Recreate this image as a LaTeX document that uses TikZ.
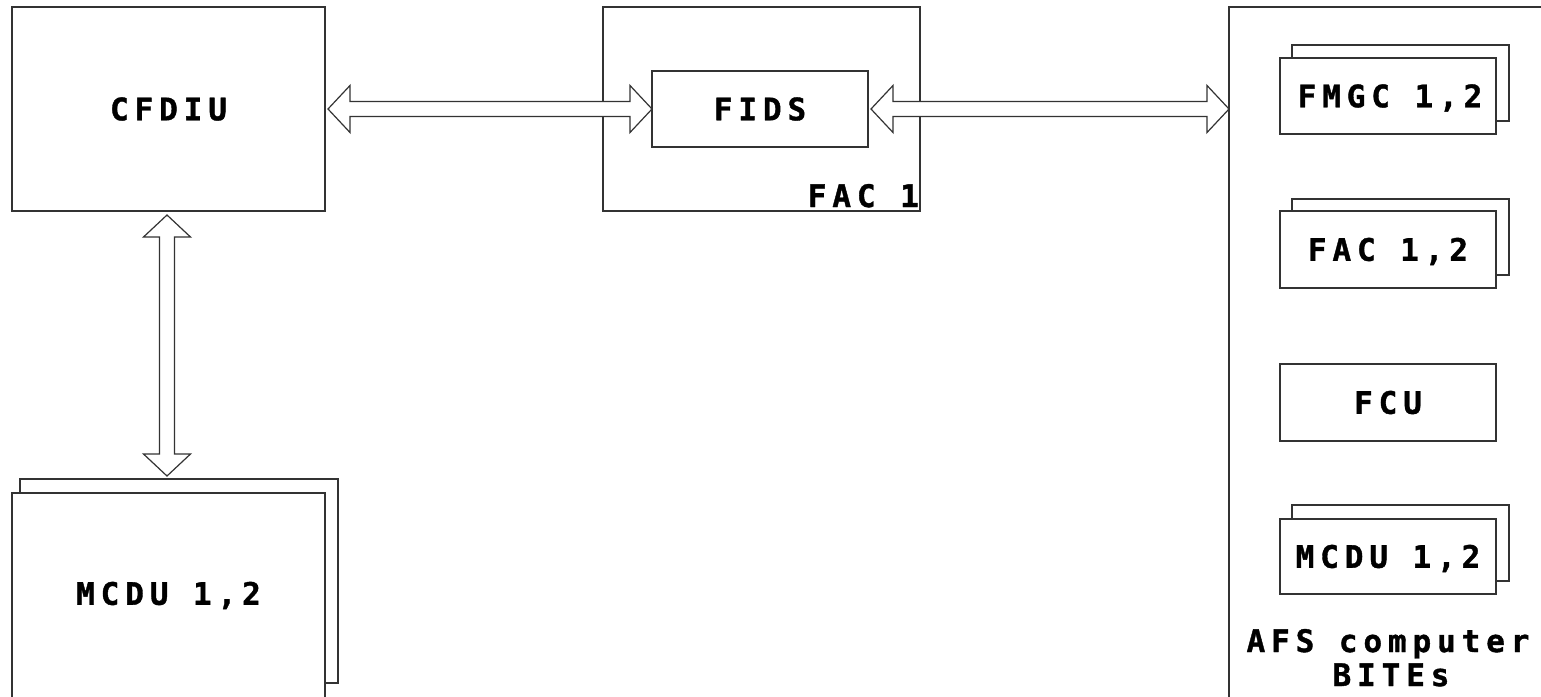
\documentclass[tikz,border=0pt]{standalone}
\usepackage{fontspec}
\usetikzlibrary{calc}
\newfontfamily\lblfont{DejaVu Sans Mono Bold}[LetterSpace=19, FakeBold=1.2]
\definecolor{linecol}{gray}{0.2}
\tikzset{
  box/.style={draw=linecol, line width=1.2pt, fill=white, inner sep=0pt, outer sep=0pt},
  lbl/.style={font=\lblfont\fontsize{31}{34}\selectfont, inner sep=0pt, text height=22.6pt, text depth=0pt},
  conn/.style={draw=linecol, line width=1.2pt, fill=white, line join=miter},
}
\newcommand\HArrow[2]{\draw[conn] let \p1=(#1), \p2=(#2) in
  (\x1,\y1) -- ++(22pt,23.5pt) -- ++(0pt,-16pt) -- (\x2-22pt,\y1+7.5pt) -- ++(0pt,16pt)
  -- (\x2,\y1) -- ++(-22pt,-23.5pt) -- ++(0pt,16pt) -- (\x1+22pt,\y1-7.5pt) -- ++(0pt,-16pt) -- cycle;}
\newcommand\VArrow[2]{\draw[conn] let \p1=(#1), \p2=(#2) in
  (\x1,\y1) -- ++(23.5pt,-22pt) -- ++(-16pt,0pt) -- (\x1+7.5pt,\y2+22pt) -- ++(16pt,0pt)
  -- (\x1,\y2) -- ++(-23.5pt,22pt) -- ++(16pt,0pt) -- (\x1-7.5pt,\y1-22pt) -- ++(-16pt,0pt) -- cycle;}
\begin{document}
\begin{tikzpicture}[x=1pt,y=-1pt]
\useasboundingbox[fill=white] (0,0) rectangle (1541,696);

% left column
\node[box, minimum width=313pt, minimum height=204pt, lbl] (cfdiu) at (168.5,109) {CFDIU};
\node[box, minimum width=318pt, minimum height=204pt] (mcduLb) at (179,581) {};
\node[box, minimum width=313pt, minimum height=212pt] (mcduL) at (168.5,599) {};
\node[lbl] (mcduLt) at (168.5,593.5) {MCDU 1,2};

% FAC 1 with FIDS
\node[box, minimum width=317pt, minimum height=204pt] (fac) at (761.5,109) {};
\node[box, minimum width=216pt, minimum height=76pt, lbl] (fids) at (760,109) {FIDS};
\node[lbl, anchor=base east] (facl) at ($(fac.south east)+(-1,-4)$) {FAC 1};

% AFS computers
\node[box, minimum width=331pt, minimum height=713pt] (afs) at (1394.5,363.5) {};
\node[box, minimum width=217pt, minimum height=76pt] (fmgcb) at (1400.5,83) {};
\node[box, minimum width=216pt, minimum height=76pt] (fmgc) at (1388,96) {};
\node[lbl] (fmgct) at (1390,96) {FMGC 1,2};
\node[box, minimum width=217pt, minimum height=76pt] (fac12b) at (1400.5,237) {};
\node[box, minimum width=216pt, minimum height=77pt, lbl] (fac12) at (1388,249.5) {FAC 1,2};
\node[box, minimum width=216pt, minimum height=77pt, lbl] (fcu) at (1388,402.5) {FCU};
\node[box, minimum width=217pt, minimum height=76pt] (mcduRb) at (1400.5,543) {};
\node[box, minimum width=216pt, minimum height=75pt, lbl] (mcduR) at (1388,556.5) {MCDU 1,2};
\node[lbl, anchor=base] (afs1) at (1388,652) {AFS computer};
\node[lbl, anchor=base] (afs2) at (1391,686) {BITEs};

% connectors
\HArrow{$(cfdiu.east)+(3,0)$}{fids.west}
\HArrow{$(fids.east)+(3,0)$}{fids.east -| afs.west}
\VArrow{$(cfdiu.south)+(-1.5,4)$}{$(cfdiu.south |- mcduLb.north)+(-1.5,-3)$}
\end{tikzpicture}
\end{document}
